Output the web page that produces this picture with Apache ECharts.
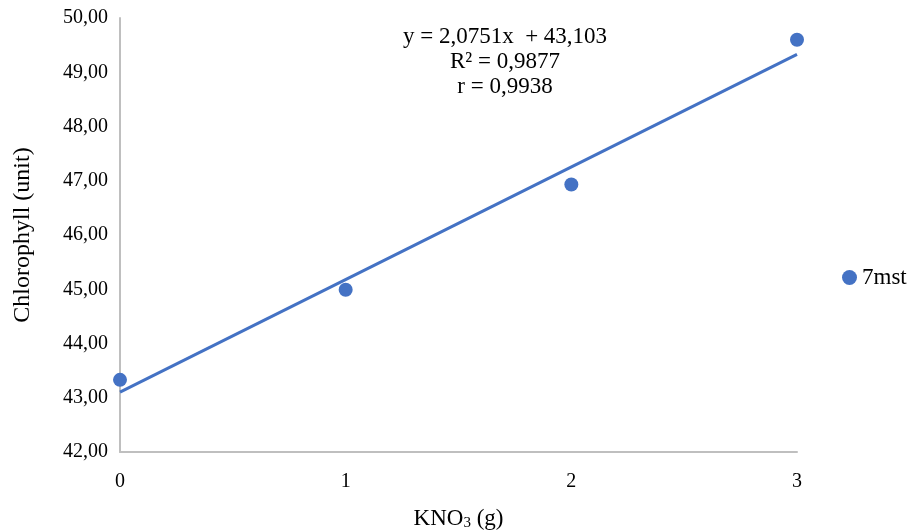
<!DOCTYPE html>
<html>
<head>
<meta charset="utf-8">
<script src="https://cdn.jsdelivr.net/npm/echarts@6/dist/echarts.min.js"></script>
<style>html,body{margin:0;padding:0;background:#fff;}#c{width:911px;height:531px;}</style>
</head>
<body>
<div id="c"></div>
<script>
const xValues = [0, 1, 2, 3];
const yValues = [43.33, 44.99, 46.93, 49.60];
const trendX = [0, 3];
const trendY = [43.103, 49.328];
const seriesName = '7mst';
const equationLines = ['y = 2,0751x  + 43,103', 'R² = 0,9877', 'r = 0,9938'];

const FONT = 'Liberation Serif';
const color = '#4472C4';
const chart = echarts.init(document.getElementById('c'));
chart.setOption({
  animation: false,
  backgroundColor: '#fff',
  textStyle: { fontFamily: FONT },
  grid: { left: 120, right: 114, top: 18, bottom: 79, containLabel: false, outerBoundsMode: 'none' },
  legend: {
    data: [{ name: seriesName, icon: 'circle' }],
    left: 837, top: 261, itemWidth: 15, itemHeight: 15, itemGap: 4,
    textStyle: { fontFamily: FONT, fontSize: 23, color: '#000' }
  },
  xAxis: {
    type: 'value', min: 0, max: 3, interval: 1,
    axisLine: { show: true, lineStyle: { color: '#bfbfbf', width: 2 } },
    axisTick: { show: false }, splitLine: { show: false },
    axisLabel: { fontFamily: FONT, fontSize: 20, color: '#000', margin: 20 },
    name: '{a|KNO}{s|3}{a| (g)}', nameLocation: 'middle', nameGap: 55,
    nameTextStyle: {
      rich: {
        a: { fontFamily: FONT, fontSize: 23, color: '#000' },
        s: { fontFamily: FONT, fontSize: 15, color: '#000', padding: [9, 0, 0, 0] }
      }
    }
  },
  yAxis: {
    type: 'value', min: 42, max: 50, interval: 1,
    axisLine: { show: true, lineStyle: { color: '#bfbfbf', width: 2 } },
    axisTick: { show: false }, splitLine: { show: false },
    axisLabel: { fontFamily: FONT, fontSize: 20, color: '#000', margin: 12,
      formatter: v => v.toFixed(2).replace('.', ',') },
    name: 'Chlorophyll (unit)', nameLocation: 'middle', nameGap: 85,
    nameTextStyle: { fontFamily: FONT, fontSize: 24, color: '#000' }
  },
  series: [
    {
      name: 'trend', type: 'line', data: trendX.map((x, i) => [x, trendY[i]]),
      showSymbol: false, symbol: 'none', lineStyle: { color: color, width: 3 }, z: 1
    },
    {
      name: seriesName, type: 'scatter', data: xValues.map((x, i) => [x, yValues[i]]),
      symbolSize: 14, itemStyle: { color: color, opacity: 1 }, z: 2
    }
  ],
  graphic: equationLines.map((t, i) => ({
    type: 'text', x: 505, y: 37 + i * 25, z: 10,
    style: { text: t, fontFamily: FONT, fontSize: 23, fill: '#000', align: 'center', verticalAlign: 'middle' }
  }))
});
</script>
</body>
</html>
